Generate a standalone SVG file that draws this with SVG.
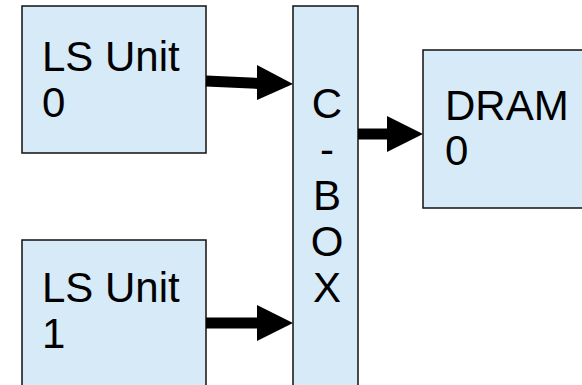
<svg xmlns="http://www.w3.org/2000/svg" width="582" height="385" viewBox="0 0 582 385">
  <style>
    .box { fill: #d6eaf8; stroke: #111; stroke-width: 1.5; }
    .lbl { font-family: "Liberation Sans", Arial, sans-serif; font-size: 42px; fill: #000; }
    .mid { text-anchor: middle; }
    .wire { stroke: #000; stroke-width: 11; fill: none; }
    .head { fill: #000; }
  </style>

  <rect width="582" height="385" fill="#fff"/>

  <g id="ls-unit-0">
    <rect class="box" x="22" y="6" width="184" height="147"/>
    <text class="lbl" x="42" y="71">LS Unit</text>
    <text class="lbl" x="42" y="117">0</text>
  </g>

  <g id="ls-unit-1">
    <rect class="box" x="22" y="240" width="184" height="160"/>
    <text class="lbl" x="42" y="302">LS Unit</text>
    <text class="lbl" x="42" y="348">1</text>
  </g>

  <g id="c-box">
    <rect class="box" x="293" y="6" width="65" height="400"/>
    <text class="lbl mid" x="327" y="118">C</text>
    <text class="lbl mid" x="327" y="164">-</text>
    <text class="lbl mid" x="327" y="210">B</text>
    <text class="lbl mid" x="327" y="256">O</text>
    <text class="lbl mid" x="327" y="302">X</text>
  </g>

  <g id="dram-0">
    <rect class="box" x="423" y="50" width="170" height="158"/>
    <text class="lbl" x="445" y="120">DRAM</text>
    <text class="lbl" x="445" y="165">0</text>
  </g>

  <g id="connectors">
    <!-- LS Unit 0 to C-BOX -->
    <path class="wire" d="M206 81 L259 83.5"/>
    <polygon class="head" points="257,65 293,84 257,100"/>
    <!-- LS Unit 1 to C-BOX -->
    <path class="wire" d="M206 323 L259 323"/>
    <polygon class="head" points="257,305 293,323 257,341"/>
    <!-- C-BOX to DRAM 0 -->
    <path class="wire" d="M358 134 L389 134"/>
    <polygon class="head" points="387,116 423,134 387,152"/>
  </g>
</svg>
